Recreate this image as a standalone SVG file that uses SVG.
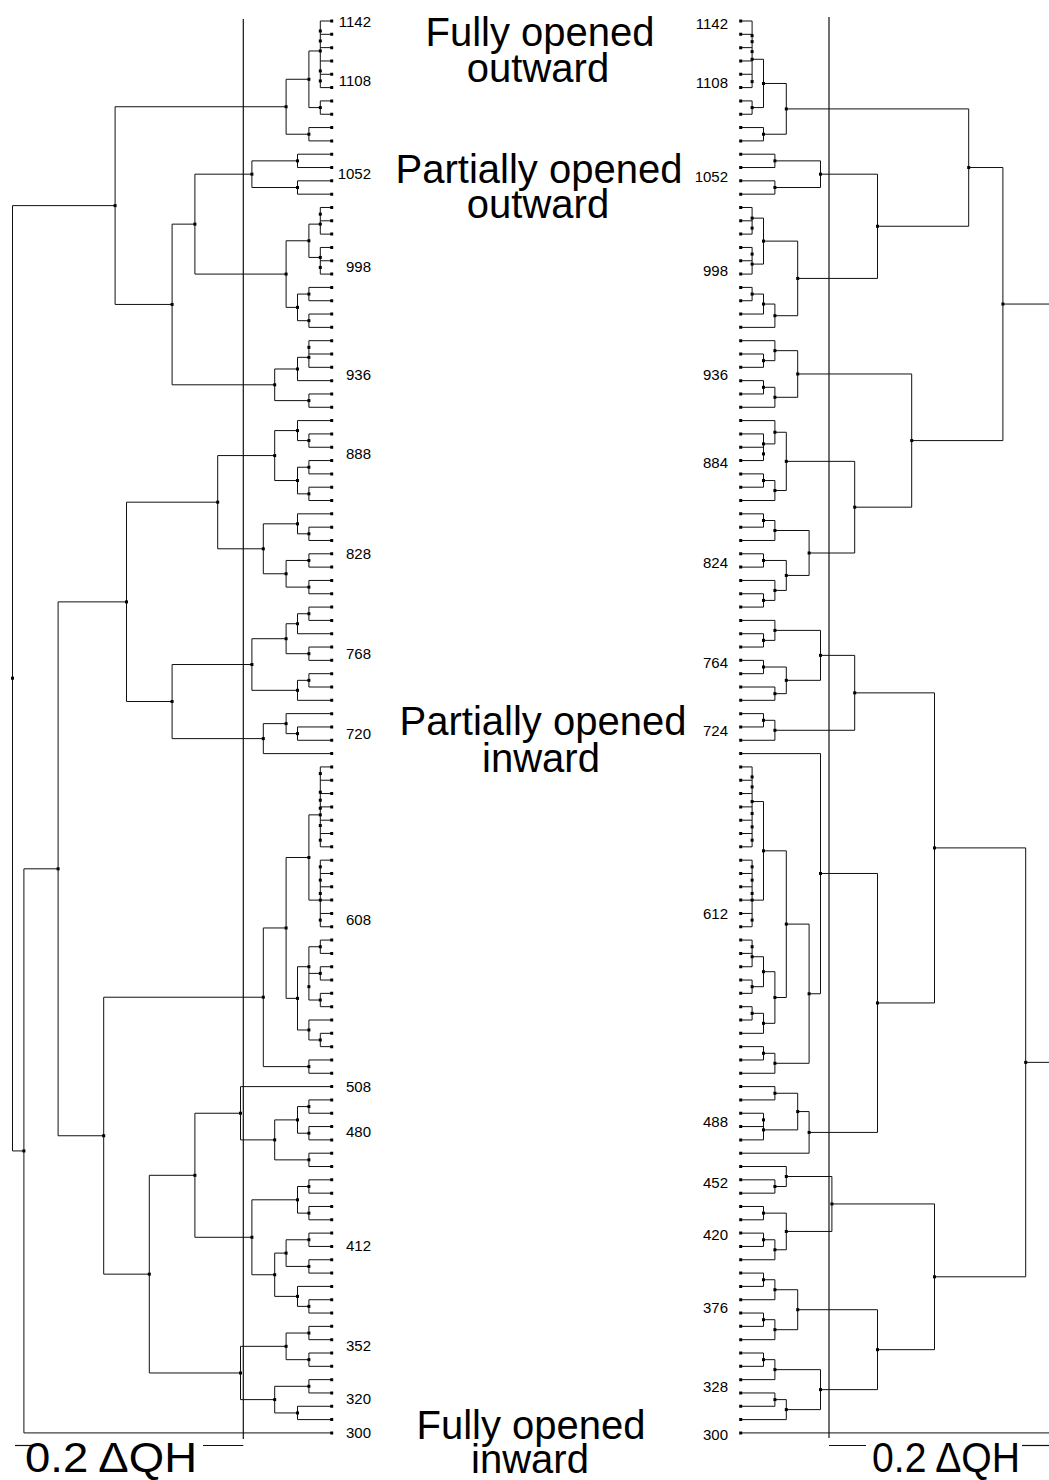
<svg xmlns="http://www.w3.org/2000/svg" xmlns:xlink="http://www.w3.org/1999/xlink" width="1049" height="1480" viewBox="0 0 1049 1480">
<style>
.ln{fill:none;stroke:#111;stroke-width:1;vector-effect:non-scaling-stroke}
.lf{stroke:#000;stroke-width:3;stroke-dasharray:3 10.32}
.ax{stroke:#111;stroke-width:1.2;fill:none}
.lab{font-family:"Liberation Sans",Arial,sans-serif;font-size:15px;fill:#000;text-anchor:end}
.ttl{font-family:"Liberation Sans",Arial,sans-serif;font-size:40px;fill:#000;text-anchor:middle}
.sc{font-family:"Liberation Sans",Arial,sans-serif;font-size:43px;fill:#000}
</style>
<defs>
<rect id="d" x="-0.1316" y="-0.1126" width="0.263" height="0.225" fill="#000"/>
</defs>
<rect width="1049" height="1480" fill="#fff"/>

<g id="titles">
<text class="ttl" x="540" y="46">Fully opened</text>
<text class="ttl" x="538" y="82">outward</text>
<text class="ttl" x="539" y="183">Partially opened</text>
<text class="ttl" x="538" y="218">outward</text>
<text class="ttl" x="543" y="735">Partially opened</text>
<text class="ttl" x="541" y="772">inward</text>
<text class="ttl" x="531" y="1439">Fully opened</text>
<text class="ttl" x="530" y="1473">inward</text>
</g>

<g id="axes">
<line class="ax" x1="243.3" y1="19" x2="243.3" y2="1439"/>
<line class="ax" x1="829" y1="17" x2="829" y2="1438"/>
</g>

<g id="scale-left">
<line class="ax" x1="15" y1="1445.5" x2="40" y2="1445.5"/>
<line class="ax" x1="203" y1="1445.5" x2="243.3" y2="1445.5"/>
<text class="sc" x="25" y="1472" textLength="172" lengthAdjust="spacingAndGlyphs">0.2 ΔQH</text>
</g>
<g id="scale-right">
<line class="ax" x1="829" y1="1445.5" x2="866" y2="1445.5"/>
<line class="ax" x1="1022" y1="1445.5" x2="1049" y2="1445.5"/>
<text class="sc" x="872" y="1472" textLength="148" lengthAdjust="spacingAndGlyphs">0.2 ΔQH</text>
</g>

<g id="connectors">
<path id="left-tree-lines" class="ln" transform="matrix(-11.4 0 0 13.32 331.7 21)" d="M0 0H1V5H0M0 1H1M0 2H1M0 3H1M0 4H1
M0 6H1V7H0M1 2.25H2V6.5H1M0 8H2V9H0M2 4.375H4V8.5H2
M0 10H3V11H0M0 12H3V13H0M3 10.5H7V12.5H3
M0 14H1V16H0M0 15H1M0 17H1V19H0M0 18H1M1 15.25H2V17.75H1
M0 20H2V21H0M0 22H2V23H0M2 20.5H3V22.5H2M2 16.5H4V21.5H3M7 11.5H12V19H4
M0 24H2V26H0M0 25H2M2 25.25H3V27H0M0 28H2V29H0M3 26.125H5V28.5H2
M12 15.25H14V27.3125H5M4 6.4375H19V21.28H14
M0 31H2V32H0M0 30H3V31.5H2M0 33H2V34H0M0 35H2V36H0M2 33.5H3V35.5H2M3 30.75H5V34.5H3
M0 38H2V39H0M0 37H3V38.5H2M0 40H2V41H0M0 42H2V43H0M2 40.5H4V42.5H2M3 37.75H6V41.5H4
M5 32.625H10V39.625H6
M0 44H2V45H0M2 44.5H3V46H0M0 47H2V48H0M3 45.25H4V47.5H2M0 49H2V50H0M2 49.5H3V51H0M4 46.375H7V50.25H3
M0 53H3V54H0M0 52H4V53.5H3M4 52.75H6V55H0M7 48.3125H14V53.875H6M10 36.125H18V51.09H14
M0 56H1V62H0M0 57H1M0 58H1M0 59H1M0 60H1M0 61H1
M0 63H1V68H0M0 64H1M0 65H1M0 66H1M0 67H1M1 59.6H2V66H1
M0 69H1V70H0M0 71H1V72H0M0 73H1V74H0M1 69.5H2V73.5H1M1 71.5H2
M0 76H1V77H0M0 75H2V76.5H1M2 71H3V75.75H2M2 62.8H4V73.375H3M0 78H2V79H0M4 68.09H6V78.5H2
M0 81H2V82H0M0 83H2V84H0M2 81.5H3V83.5H2M0 85H2V86H0M3 82.5H5V85.5H2M0 80H8V84H5
M0 87H2V88H0M0 89H2V90H0M2 87.5H3V89.5H2M0 91H2V92H0M0 93H2V94H0M2 91.5H4V93.5H2
M0 96H2V97H0M0 95H3V96.5H2M4 92.5H5V95.75H3M3 88.5H7V94.125H5M8 82H12V91.3125H7
M0 98H2V99H0M0 100H2V101H0M2 98.5H4V100.5H2M0 102H2V103H0M0 104H3V105H0M2 102.5H5V104.5H3M4 99.5H8V103.5H5
M12 86.66H16V101.5H8M6 73.29H20V94.08H16M18 43.61H24V83.69H20M24 63.65H27V106H0M19 13.86H28V84.83H27"/>
<path id="right-tree-lines" class="ln" transform="matrix(11.4 0 0 13.32 740.7 21)" d="M0 0H1V5H0M0 1H1M0 2H1M0 3H1M0 4H1
M0 6H1V7H0M1 2.875H2V6.5H1M0 8H2V9H0M2 4.69H4V8.5H2
M0 10H3V11H0M0 12H3V13H0M3 10.5H7V12.5H3
M0 14H1V16H0M0 15H1M0 17H1V19H0M0 18H1M1 14.8H2V18.25H1
M0 20H1V21H0M1 20.5H2V22H0M2 21.25H3V23H0M2 16.525H5V22.125H3M7 11.5H12V19.325H5M4 6.6H20V15.41H12
M0 25H2V26H0M0 24H3V25.5H2M0 27H2V28H0M2 27.5H3V29H0M3 24.75H5V28.25H3
M0 31H2V33H0M0 32H2M0 30H3V31.75H2M0 34H2V35H0M2 34.5H3V36H0M3 30.875H4V35.25H3
M0 37H2V38H0M2 37.5H3V39H0M0 40H2V41H0M0 43H2V44H0M0 42H3V43.5H2M2 40.5H4V42.75H3M3 38.25H6V41.625H4
M4 33.06H10V39.94H6M5 26.5H15V36.5H10M20 11H23V31.5H15M23 21.25H27.2
M0 46H2V47H0M0 45H3V46.5H2M0 48H2V49H0M0 50H3V51H0M2 48.5H4V50.5H3M3 45.75H7V49.5H4
M0 52H2V53H0M2 52.5H3V54H0M7 47.625H10V53.25H3
M0 56H1V62H0M0 57H1M0 58H1M0 59H1M0 60H1M0 61H1
M0 63H1V68H0M0 64H1M0 65H1M0 66H1M0 67H1M1 58.6H2V66H1
M0 69H1V71H0M0 70H1M0 72H1V73H0M1 70.25H2V72.5H1M0 74H1V75H0M1 74.5H2V76H0M2 71.375H3V75.25H2M2 62.3H4V73.31H3
M0 77H2V78H0M2 77.5H3V79H0M4 67.8H6V78.25H3M0 55H7V73.03H6
M0 80H3V81H0M0 82H2V84H0M0 83H2M3 80.5H5V83.25H2M5 81.875H6V85H0M7 64H12V83.44H6M10 50.44H17V73.72H12
M0 87H3V88H0M0 86H4V87.5H3M0 89H2V90H0M0 91H2V92H0M2 91.5H3V93H0M2 89.5H4V92.25H3M4 86.75H8V90.875H4
M0 94H2V95H0M2 94.5H3V96H0M0 97H2V98H0M2 97.5H3V99H0M3 95.25H5V98.25H3
M0 100H2V101H0M2 100.5H3V102H0M0 103H3V104H0M3 103.5H4V105H0M3 101.25H7V104.25H4M5 96.75H12V102.75H7
M8 88.81H17V99.75H12M17 62.08H25V94.28H17M25 78.18H27.2M0 106H27.2"/>
</g>

<g id="leaves-left"><line class="lf" x1="331.7" y1="19.5" x2="331.7" y2="1436"/></g>
<g id="leaves-right"><line class="lf" x1="740.7" y1="19.5" x2="740.7" y2="1436"/></g>

<g id="nodes-left" transform="matrix(-11.4 0 0 13.32 331.7 21)">
<use href="#d" x="1" y="0.75"/><use href="#d" x="1" y="1.5"/><use href="#d" x="1" y="2.25"/><use href="#d" x="1" y="3.75"/><use href="#d" x="1" y="4.5"/><use href="#d" x="1" y="6.5"/><use href="#d" x="2" y="4.375"/><use href="#d" x="2" y="8.5"/><use href="#d" x="4" y="6.4375"/>
<use href="#d" x="3" y="10.5"/><use href="#d" x="3" y="12.5"/><use href="#d" x="7" y="11.5"/><use href="#d" x="1" y="14.5"/><use href="#d" x="1" y="15.25"/><use href="#d" x="1" y="17.75"/><use href="#d" x="1" y="18.5"/><use href="#d" x="2" y="16.5"/><use href="#d" x="2" y="20.5"/><use href="#d" x="2" y="22.5"/><use href="#d" x="3" y="21.5"/><use href="#d" x="4" y="19"/><use href="#d" x="12" y="15.25"/>
<use href="#d" x="2" y="24.5"/><use href="#d" x="2" y="25.25"/><use href="#d" x="3" y="26.125"/><use href="#d" x="2" y="28.5"/><use href="#d" x="5" y="27.3125"/><use href="#d" x="14" y="21.28"/><use href="#d" x="19" y="13.86"/>
<use href="#d" x="2" y="31.5"/><use href="#d" x="3" y="30.75"/><use href="#d" x="2" y="33.5"/><use href="#d" x="2" y="35.5"/><use href="#d" x="3" y="34.5"/><use href="#d" x="5" y="32.625"/><use href="#d" x="2" y="38.5"/><use href="#d" x="3" y="37.75"/><use href="#d" x="2" y="40.5"/><use href="#d" x="2" y="42.5"/><use href="#d" x="4" y="41.5"/><use href="#d" x="6" y="39.625"/><use href="#d" x="10" y="36.125"/>
<use href="#d" x="2" y="44.5"/><use href="#d" x="3" y="45.25"/><use href="#d" x="2" y="47.5"/><use href="#d" x="4" y="46.375"/><use href="#d" x="2" y="49.5"/><use href="#d" x="3" y="50.25"/><use href="#d" x="7" y="48.3125"/><use href="#d" x="3" y="53.5"/><use href="#d" x="4" y="52.75"/><use href="#d" x="6" y="53.875"/><use href="#d" x="14" y="51.09"/><use href="#d" x="18" y="43.61"/>
<use href="#d" x="1" y="56.5"/><use href="#d" x="1" y="57.9"/><use href="#d" x="1" y="58.5"/><use href="#d" x="1" y="59.1"/><use href="#d" x="1" y="59.6"/><use href="#d" x="1" y="60.4"/><use href="#d" x="1" y="61.5"/><use href="#d" x="1" y="63.5"/><use href="#d" x="1" y="64.5"/><use href="#d" x="1" y="65.5"/><use href="#d" x="1" y="66"/><use href="#d" x="1" y="67.5"/><use href="#d" x="2" y="62.8"/>
<use href="#d" x="1" y="69.5"/><use href="#d" x="1" y="71.5"/><use href="#d" x="1" y="73.5"/><use href="#d" x="2" y="72.5"/><use href="#d" x="2" y="71"/><use href="#d" x="1" y="76.5"/><use href="#d" x="2" y="75.75"/><use href="#d" x="3" y="73.375"/><use href="#d" x="4" y="68.09"/><use href="#d" x="2" y="78.5"/><use href="#d" x="6" y="73.29"/>
<use href="#d" x="2" y="81.5"/><use href="#d" x="2" y="83.5"/><use href="#d" x="3" y="82.5"/><use href="#d" x="2" y="85.5"/><use href="#d" x="5" y="84"/><use href="#d" x="8" y="82"/>
<use href="#d" x="2" y="87.5"/><use href="#d" x="2" y="89.5"/><use href="#d" x="3" y="88.5"/><use href="#d" x="2" y="91.5"/><use href="#d" x="2" y="93.5"/><use href="#d" x="4" y="92.5"/><use href="#d" x="2" y="96.5"/><use href="#d" x="3" y="95.75"/><use href="#d" x="5" y="94.125"/><use href="#d" x="7" y="91.3125"/><use href="#d" x="12" y="86.66"/>
<use href="#d" x="2" y="98.5"/><use href="#d" x="2" y="100.5"/><use href="#d" x="4" y="99.5"/><use href="#d" x="2" y="102.5"/><use href="#d" x="3" y="104.5"/><use href="#d" x="5" y="103.5"/><use href="#d" x="8" y="101.5"/><use href="#d" x="16" y="94.08"/><use href="#d" x="20" y="83.69"/><use href="#d" x="24" y="63.65"/><use href="#d" x="27" y="84.83"/><use href="#d" x="28" y="49.34"/>
</g>

<g id="nodes-right" transform="matrix(11.4 0 0 13.32 740.7 21)">
<use href="#d" x="1" y="1.1"/><use href="#d" x="1" y="1.55"/><use href="#d" x="1" y="2.3"/><use href="#d" x="1" y="2.875"/><use href="#d" x="1" y="4.55"/><use href="#d" x="1" y="6.5"/><use href="#d" x="2" y="4.69"/><use href="#d" x="2" y="8.5"/><use href="#d" x="4" y="6.6"/><use href="#d" x="3" y="10.5"/><use href="#d" x="3" y="12.5"/><use href="#d" x="7" y="11.5"/>
<use href="#d" x="1" y="14.8"/><use href="#d" x="1" y="15.55"/><use href="#d" x="1" y="17.5"/><use href="#d" x="1" y="18.25"/><use href="#d" x="2" y="16.525"/><use href="#d" x="1" y="20.5"/><use href="#d" x="2" y="21.25"/><use href="#d" x="3" y="22.125"/><use href="#d" x="5" y="19.325"/><use href="#d" x="12" y="15.41"/><use href="#d" x="20" y="11"/>
<use href="#d" x="2" y="25.5"/><use href="#d" x="3" y="24.75"/><use href="#d" x="2" y="27.5"/><use href="#d" x="3" y="28.25"/><use href="#d" x="5" y="26.5"/><use href="#d" x="2" y="32.5"/><use href="#d" x="2" y="31.75"/><use href="#d" x="3" y="30.875"/><use href="#d" x="2" y="34.5"/><use href="#d" x="3" y="35.25"/><use href="#d" x="4" y="33.06"/>
<use href="#d" x="2" y="37.5"/><use href="#d" x="3" y="38.25"/><use href="#d" x="2" y="40.5"/><use href="#d" x="2" y="43.5"/><use href="#d" x="3" y="42.75"/><use href="#d" x="4" y="41.625"/><use href="#d" x="6" y="39.94"/><use href="#d" x="10" y="36.5"/><use href="#d" x="15" y="31.5"/><use href="#d" x="23" y="21.25"/>
<use href="#d" x="2" y="46.5"/><use href="#d" x="3" y="45.75"/><use href="#d" x="2" y="48.5"/><use href="#d" x="3" y="50.5"/><use href="#d" x="4" y="49.5"/><use href="#d" x="7" y="47.625"/><use href="#d" x="2" y="52.5"/><use href="#d" x="3" y="53.25"/><use href="#d" x="10" y="50.44"/>
<use href="#d" x="1" y="56.75"/><use href="#d" x="1" y="57.5"/><use href="#d" x="1" y="58.6"/><use href="#d" x="1" y="59.5"/><use href="#d" x="1" y="60.5"/><use href="#d" x="1" y="61.5"/><use href="#d" x="1" y="63.5"/><use href="#d" x="1" y="64.5"/><use href="#d" x="1" y="65.5"/><use href="#d" x="1" y="66"/><use href="#d" x="1" y="67.5"/><use href="#d" x="2" y="62.3"/>
<use href="#d" x="1" y="69.5"/><use href="#d" x="1" y="70.25"/><use href="#d" x="1" y="72.5"/><use href="#d" x="2" y="71.375"/><use href="#d" x="1" y="74.5"/><use href="#d" x="2" y="75.25"/><use href="#d" x="3" y="73.31"/><use href="#d" x="4" y="67.8"/><use href="#d" x="2" y="77.5"/><use href="#d" x="3" y="78.25"/><use href="#d" x="6" y="73.03"/><use href="#d" x="7" y="64"/>
<use href="#d" x="3" y="80.5"/><use href="#d" x="2" y="82.5"/><use href="#d" x="2" y="83.25"/><use href="#d" x="5" y="81.875"/><use href="#d" x="6" y="83.44"/><use href="#d" x="12" y="73.72"/><use href="#d" x="17" y="62.08"/>
<use href="#d" x="3" y="87.5"/><use href="#d" x="4" y="86.75"/><use href="#d" x="2" y="89.5"/><use href="#d" x="2" y="91.5"/><use href="#d" x="3" y="92.25"/><use href="#d" x="4" y="90.875"/><use href="#d" x="8" y="88.81"/><use href="#d" x="2" y="94.5"/><use href="#d" x="3" y="95.25"/><use href="#d" x="2" y="97.5"/><use href="#d" x="3" y="98.25"/><use href="#d" x="5" y="96.75"/>
<use href="#d" x="2" y="100.5"/><use href="#d" x="3" y="101.25"/><use href="#d" x="3" y="103.5"/><use href="#d" x="4" y="104.25"/><use href="#d" x="7" y="102.75"/><use href="#d" x="12" y="99.75"/><use href="#d" x="17" y="94.28"/><use href="#d" x="25" y="78.18"/>
</g>

<g id="labels-left">
<text class="lab" x="371" y="27">1142</text>
<text class="lab" x="371" y="86.4">1108</text>
<text class="lab" x="371" y="178.7">1052</text>
<text class="lab" x="371" y="272">998</text>
<text class="lab" x="371" y="379.7">936</text>
<text class="lab" x="371" y="458.7">888</text>
<text class="lab" x="371" y="559.4">828</text>
<text class="lab" x="371" y="658.7">768</text>
<text class="lab" x="371" y="738.7">720</text>
<text class="lab" x="371" y="925.4">608</text>
<text class="lab" x="371" y="1092">508</text>
<text class="lab" x="371" y="1137">480</text>
<text class="lab" x="371" y="1251.4">412</text>
<text class="lab" x="371" y="1351">352</text>
<text class="lab" x="371" y="1404.4">320</text>
<text class="lab" x="371" y="1437.7">300</text>
</g>
<g id="labels-right">
<text class="lab" x="728" y="28.7">1142</text>
<text class="lab" x="728" y="88">1108</text>
<text class="lab" x="728" y="182">1052</text>
<text class="lab" x="728" y="276.4">998</text>
<text class="lab" x="728" y="379.7">936</text>
<text class="lab" x="728" y="468">884</text>
<text class="lab" x="728" y="568">824</text>
<text class="lab" x="728" y="668">764</text>
<text class="lab" x="728" y="736">724</text>
<text class="lab" x="728" y="919.4">612</text>
<text class="lab" x="728" y="1127">488</text>
<text class="lab" x="728" y="1188">452</text>
<text class="lab" x="728" y="1240.4">420</text>
<text class="lab" x="728" y="1312.7">376</text>
<text class="lab" x="728" y="1392">328</text>
<text class="lab" x="728" y="1440.4">300</text>
</g>
</svg>
